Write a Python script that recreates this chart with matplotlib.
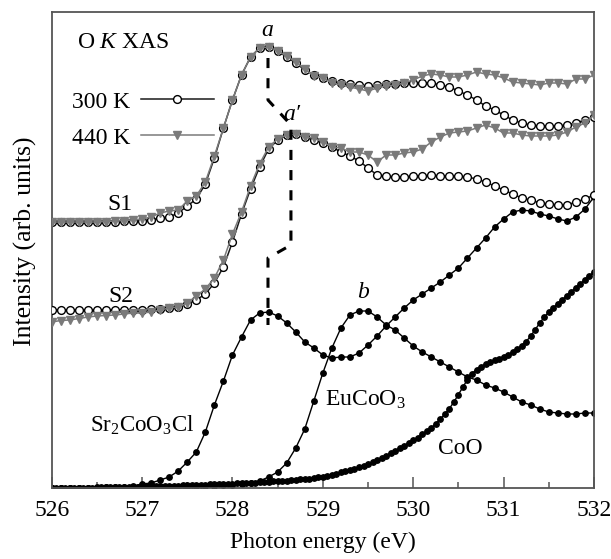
import numpy as np
import matplotlib
matplotlib.use("Agg")
import matplotlib.pyplot as plt

plt.rcParams['font.family'] = ['Liberation Serif', 'DejaVu Serif']
plt.rcParams['mathtext.fontset'] = 'custom'
plt.rcParams['mathtext.rm'] = 'Liberation Serif'
plt.rcParams['mathtext.it'] = 'Liberation Serif:italic'

# ---------------- data (depth below top reference) ----------------
TOP = 488.0
energy = np.round(np.arange(526.0, 532.0001, 0.1), 2)
energy_coo = np.round(np.arange(526.0, 532.0001, 0.05), 3)

s1_300 = [222, 222, 222, 222, 222, 222, 221.5, 221.5, 221, 221, 221,
          220, 218, 217, 213, 206, 199, 184, 158, 128, 100,
          75, 57, 48, 47, 51, 57, 63, 70, 75, 78,
          81, 83, 84, 85, 86, 85, 84, 84, 83, 83,
          83, 83, 85, 87, 91, 95, 100, 106, 110, 115,
          120, 123, 125, 126, 126, 126, 125, 123, 120, 117]
s1_440 = [222, 222, 222, 222, 222, 222, 221.5, 221, 220.5, 220, 219,
          217, 213, 211, 210, 201, 196, 182, 156, 128, 100,
          75, 57, 48, 47, 51, 56, 62, 69, 76, 78,
          83, 85, 87, 89, 91, 88, 86, 85, 83, 80,
          76, 74, 75, 77, 77, 75, 72, 74, 75, 78,
          82, 83, 84, 85, 83, 83, 84, 79, 79, 75]
s2_300 = [310, 310, 310, 310, 310, 310, 310, 310, 310, 310, 309.5,
          309, 308.5, 308, 307, 304, 300, 294, 283, 267, 242,
          214, 189, 167, 149, 140, 135, 134, 137, 140, 143,
          147, 152, 156, 161, 168, 175, 176, 177, 177, 176,
          176, 175, 176, 176, 176, 177, 179, 182, 186, 190,
          194, 198, 200, 203, 204, 205, 205, 202, 199, 195]
s2_440 = [322, 320.5, 320, 318.5, 317, 316, 315.5, 315, 314, 313, 313,
          312, 310, 308, 307, 303, 296, 289, 278, 260, 234,
          212, 186, 164, 147, 139, 135, 134, 137, 138, 142,
          147, 148, 152, 152, 155, 162, 155, 155, 153, 152,
          149, 142, 137, 133, 132, 131, 128, 125, 128, 133,
          133, 135, 136, 136, 136, 135, 132, 127, 123, 115]
sr2coo3cl = [487.5, 487.5, 487.5, 487.5, 487.5, 487.5, 487, 487, 486.5, 486, 484,
             483, 480, 477, 471, 462, 452, 432, 405, 381, 355,
             337, 320, 313, 312, 316, 323, 332, 342, 348, 355,
             358, 357, 357, 353, 345, 336, 326, 317, 308, 300,
             294, 288, 282, 275, 268, 258, 248, 238, 227, 219,
             212, 210, 211, 214, 216, 219, 221, 217, 209, 197]
eucoo3 = [487.5, 487.5, 487.5, 487.5, 487.5, 487.5, 487.5, 487.5, 487.5, 487.5, 487,
          487, 487, 487, 486.5, 486.5, 486, 486, 485.5, 485, 485,
          484, 482.5, 481, 477, 472, 463, 448, 429, 401, 373,
          348, 328, 315, 311, 311, 317, 325, 330, 338, 346,
          352, 357, 362, 367, 372, 377, 380, 385, 388, 392,
          397, 402, 405, 409, 412, 413, 414, 414, 413, 413]
coo = [487.8, 487.8, 487.8, 487.7, 487.7, 487.7, 487.6, 487.6, 487.5, 487.5,
       487.4, 487.4, 487.3, 487.2, 487.1, 487.0, 486.9, 486.8, 486.7, 486.6,
       486.5, 486.4, 486.3, 486.2, 486.0, 485.9, 485.8, 485.6, 485.5, 485.3,
       485.2, 485.0, 484.9, 484.7, 484.6, 484.4, 484.3, 484.1, 483.9, 483.7,
       483.5, 483.3, 483.1, 482.9, 482.7, 482.5, 482.2, 482.0, 481.7, 481.4,
       481.1, 480.8, 480.5, 480.1, 479.7, 479.3, 478.9, 478.5, 478.0, 477.3,
       476.5, 475.5, 474.5, 473.5, 472.3, 471.2, 470.0, 468.6, 467.2, 465.8,
       464.3, 462.2, 460.0, 457.8, 455.5, 453.1, 450.6, 448.0, 445.5, 443.0,
       440.3, 437.5, 434.3, 431.0, 428.0, 423.5, 419.0, 414.0, 408.5, 402.0,
       394.5, 387.0, 379.5, 373.5, 369.5, 366.5, 364.0, 362.0, 360.2, 358.5,
       356.5, 354.5, 352.0, 349.0, 345.5, 341.5, 336.0, 329.5, 323.0, 317.0,
       312.0, 307.5, 303.5, 299.5, 295.5, 291.5, 287.5, 283.5, 279.5, 275.5,
       272.0]

x_ticks = [526, 527, 528, 529, 530, 531, 532]
temp_labels = ['300 K', '440 K']

# peak guide (dashed) path, in (eV, intensity)
guide_E = [528.393, 528.393, 528.647, 528.647, 528.393, 528.393]
guide_I = [430, 388, 363, 243, 230, 163]


def inten(v):
    return TOP - np.asarray(v, dtype=float)


fig = plt.figure(figsize=(6.11, 5.59), dpi=100)
ax = fig.add_axes([51.7 / 611, 71 / 559, (594 - 51.7) / 611, 476 / 559])

c300 = '#1a1a1a'
c440 = '#7a7a7a'
ms_s = 5.6
ms_r = 3.9

# reference compounds
for data, xx in [(sr2coo3cl, energy), (eucoo3, energy), (coo, energy_coo)]:
    ax.plot(xx, inten(data), '-', color='black', lw=1.0, marker='o',
            ms=ms_r, mfc='black', mec='black', zorder=2)

# samples
l300, = ax.plot(energy, inten(s1_300), '-', color=c300, lw=1.1, marker='o', ms=ms_s,
                mfc='white', mec='black', mew=1.0, zorder=3)
ax.plot(energy, inten(s2_300), '-', color=c300, lw=1.1, marker='o', ms=ms_s,
        mfc='white', mec='black', mew=1.0, zorder=3)
l440, = ax.plot(energy, inten(s1_440), '-', color=c440, lw=1.1, marker='v', ms=ms_s,
                mfc=c440, mec=c440, zorder=4)
ax.plot(energy, inten(s2_440), '-', color=c440, lw=1.1, marker='v', ms=ms_s,
        mfc=c440, mec=c440, zorder=4)

# dashed guide
ax.plot(guide_E, guide_I, color='black', lw=2.2, linestyle=(0, (3.3, 3.3)), zorder=5)

ax.set_xlim(526, 532)
ax.set_ylim(0, 476)
ax.set_xticks(x_ticks)
ax.set_xticks(np.arange(526.5, 532, 1.0), minor=True)
ax.set_xticklabels([str(t) for t in x_ticks])
ax.set_yticks([])
ax.tick_params(axis='x', which='major', direction='in', length=8, width=1.1,
               color='#555555', labelsize=17, pad=9)
ax.tick_params(axis='x', which='minor', direction='in', length=4, width=1.1,
               color='#555555')
for sp in ax.spines.values():
    sp.set_color('#555555')
    sp.set_linewidth(1.3)

ax.set_xlabel('Photon energy (eV)', fontsize=17)
ax.xaxis.set_label_coords(0.5, -0.091)
ax.set_ylabel('Intensity (arb. units)', fontsize=18.5)
ax.yaxis.set_label_coords(-0.027, 0.519)

leg = ax.legend(handles=[l300, l440], labels=temp_labels, markerfirst=False, numpoints=1,
                frameon=False, handlelength=3.1, handletextpad=0.45, labelspacing=0.62,
                loc='upper left', bbox_to_anchor=(0.037, 0.834), borderaxespad=0,
                borderpad=0, fontsize=17)

fs = 17
ax.text(526.28, 446, 'O $K$ XAS', fontsize=fs, ha='left', va='center')
ax.text(528.39, 457, 'a', fontsize=fs, style='italic', ha='center', va='center')
ax.text(528.66, 373, 'a\u2032', fontsize=fs, style='italic', ha='center', va='center')
ax.text(529.45, 196, 'b', fontsize=fs, style='italic', ha='center', va='center')
ax.text(526.76, 283, 'S1', fontsize=fs, ha='center', va='center')
ax.text(526.76, 191, 'S2', fontsize=fs, ha='center', va='center')
ax.text(527.0, 63, r'Sr$_\mathrm{2}$CoO$_\mathrm{3}$Cl', fontsize=16.5, ha='center', va='center')
ax.text(529.47, 88, r'EuCoO$_\mathrm{3}$', fontsize=fs, ha='center', va='center')
ax.text(530.52, 40, 'CoO', fontsize=fs, ha='center', va='center')

fig.savefig('out.png', dpi=100)
